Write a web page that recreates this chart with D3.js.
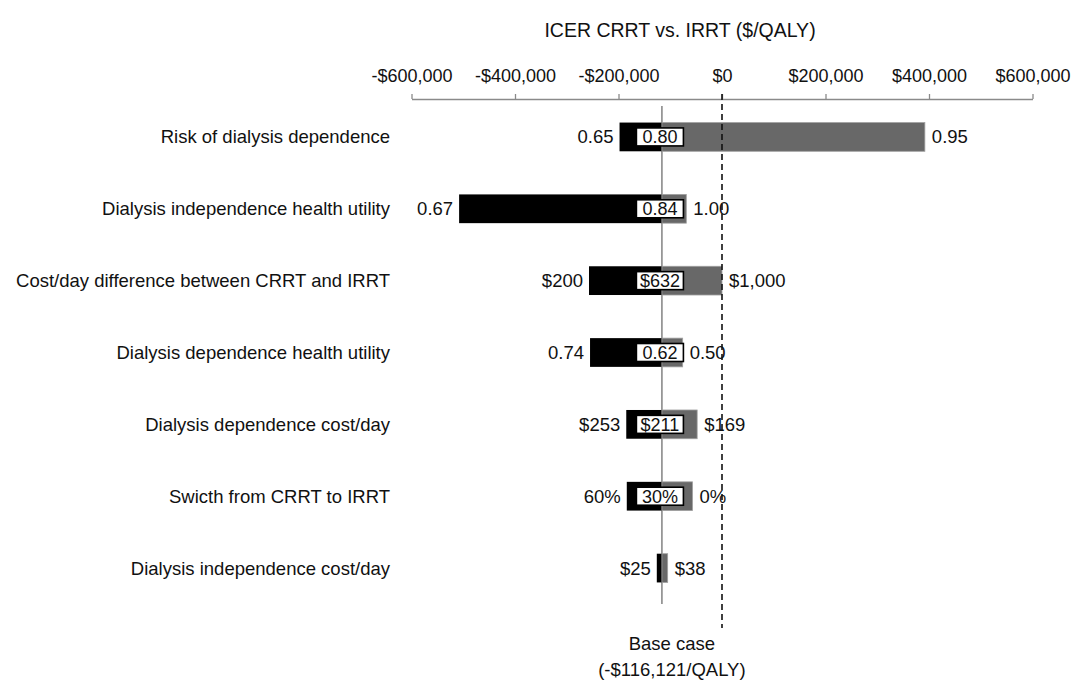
<!DOCTYPE html>
<html>
<head>
<meta charset="utf-8">
<script src="https://cdn.jsdelivr.net/npm/d3@7"></script>
<style>
  html, body { margin: 0; padding: 0; background: #fff; }
  svg text { font-family: "Liberation Sans", Arial, sans-serif; fill: #111; }
</style>
</head>
<body>
<div id="chart"></div>
<script>
/******  DATA  ******/
var parameters = [
  "Risk of dialysis dependence",
  "Dialysis independence health utility",
  "Cost/day difference between CRRT and IRRT",
  "Dialysis dependence health utility",
  "Dialysis dependence cost/day",
  "Swicth from CRRT to IRRT",
  "Dialysis independence cost/day"
];
// ICER ($/QALY) at the low-side (black) and high-side (gray) bar ends
var icerLow  = [-198000, -508000, -257000, -255000, -185000, -184000, -126000];
var icerHigh = [ 392000,  -69000,       0,  -76000,  -48000,  -57000, -105000];
// parameter values printed next to the bars
var lowLabels  = ["0.65", "0.67", "$200", "0.74", "$253", "60%", "$25"];
var baseLabels = ["0.80", "0.84", "$632", "0.62", "$211", "30%", ""];
var highLabels = ["0.95", "1.00", "$1,000", "0.50", "$169", "0%", "$38"];
var baseCase = -116121;
var xTicks = [-600000, -400000, -200000, 0, 200000, 400000, 600000];

/******  SET UP SVG  ******/
var width = 1074, height = 681;
var svg = d3.select("#chart")
  .append("svg")
  .attr("width", width)
  .attr("height", height);

var axisY = 99;

var x = d3.scaleLinear()
  .domain([-600000, 600000])
  .range([411.5, 1032.5]);

var y = d3.scaleBand()
  .domain(parameters)
  .range([101, 604])
  .paddingInner(0.6)
  .paddingOuter(0.3);

var fmt = d3.format(",");
function money(v) {
  return v < 0 ? "-$" + fmt(-v) : "$" + fmt(v);
}

/******  TITLE  ******/
svg.append("text")
  .attr("x", x(0) - 42)
  .attr("y", 37)
  .attr("text-anchor", "middle")
  .style("font-size", "19.5px")
  .text("ICER CRRT vs. IRRT ($/QALY)");

/******  AXIS  ******/
var axis = d3.axisTop(x)
  .tickValues(xTicks)
  .tickSize(5)
  .tickSizeOuter(0)
  .tickPadding(12)
  .tickFormat(money);

var gAxis = svg.append("g")
  .attr("transform", "translate(0," + axisY + ")")
  .call(axis);
gAxis.select(".domain").attr("stroke", "#8a8a8a").attr("stroke-width", 1.3);
gAxis.selectAll(".tick line").attr("stroke", "#8a8a8a").attr("stroke-width", 1.3);
gAxis.selectAll(".tick text")
  .attr("fill", "#111")
  .style("font-size", "18px")
  .style("font-family", "'Liberation Sans', Arial, sans-serif");

/******  REFERENCE LINES  ******/
svg.append("line")
  .attr("x1", x(baseCase)).attr("x2", x(baseCase))
  .attr("y1", axisY + 7).attr("y2", 604)
  .attr("stroke", "#8a8a8a")
  .attr("stroke-width", 1.6);

/******  CATEGORY LABELS  ******/
var rows = parameters.map(function(p, i) {
  return { name: p, lo: icerLow[i], hi: icerHigh[i],
           loLab: lowLabels[i], baseLab: baseLabels[i], hiLab: highLabels[i] };
});

svg.append("g")
  .selectAll("text")
  .data(rows)
  .enter()
  .append("text")
    .attr("x", 390)
    .attr("y", function(d) { return y(d.name) + y.bandwidth() / 2 + 6.5; })
    .attr("text-anchor", "end")
    .style("font-size", "18.5px")
    .text(function(d) { return d.name; });

/******  BARS  ******/
var bars = svg.append("g");

bars.selectAll(".low")
  .data(rows)
  .enter()
  .append("rect")
    .attr("class", "low")
    .attr("x", function(d) { return x(d.lo); })
    .attr("y", function(d) { return y(d.name); })
    .attr("width", function(d) { return x(baseCase) - x(d.lo); })
    .attr("height", y.bandwidth())
    .attr("fill", "#000");

bars.selectAll(".high")
  .data(rows)
  .enter()
  .append("rect")
    .attr("class", "high")
    .attr("x", function(d) { return x(baseCase); })
    .attr("y", function(d) { return y(d.name); })
    .attr("width", function(d) { return x(d.hi) - x(baseCase); })
    .attr("height", y.bandwidth())
    .attr("fill", "#686868")
    .attr("stroke", "#a0a0a0")
    .attr("stroke-width", 0.8);

// base value boxes
var boxes = bars.selectAll(".base")
  .data(rows.filter(function(d) { return d.baseLab !== ""; }))
  .enter()
  .append("g")
    .attr("class", "base")
    .attr("transform", function(d) {
      return "translate(" + (x(baseCase) - 2) + "," + (y(d.name) + y.bandwidth() / 2) + ")";
    });

boxes.append("rect")
  .attr("x", -23.5).attr("y", -9)
  .attr("width", 47).attr("height", 18)
  .attr("fill", "#fff")
  .attr("stroke", "#000")
  .attr("stroke-width", 1.6);

boxes.append("text")
  .attr("y", 6.5)
  .attr("text-anchor", "middle")
  .style("font-size", "18px")
  .text(function(d) { return d.baseLab; });

/******  VALUE LABELS  ******/
svg.append("g")
  .selectAll("text")
  .data(rows)
  .enter()
  .append("text")
    .attr("x", function(d) { return x(d.lo) - 6; })
    .attr("y", function(d) { return y(d.name) + y.bandwidth() / 2 + 6.5; })
    .attr("text-anchor", "end")
    .style("font-size", "18.5px")
    .text(function(d) { return d.loLab; });

svg.append("g")
  .selectAll("text")
  .data(rows)
  .enter()
  .append("text")
    .attr("x", function(d) { return x(d.hi) + 7; })
    .attr("y", function(d) { return y(d.name) + y.bandwidth() / 2 + 6.5; })
    .attr("text-anchor", "start")
    .style("font-size", "18.5px")
    .text(function(d) { return d.hiLab; });

// dashed zero line drawn on top
svg.append("line")
  .attr("x1", x(0)).attr("x2", x(0))
  .attr("y1", axisY - 5).attr("y2", 628)
  .attr("stroke", "#111")
  .attr("stroke-width", 1.6)
  .attr("stroke-dasharray", "6,4");

/******  BASE CASE NOTE  ******/
var note = svg.append("text")
  .attr("x", x(baseCase) + 10)
  .attr("text-anchor", "middle")
  .style("font-size", "18.5px");
note.append("tspan").attr("x", x(baseCase) + 10).attr("y", 650).text("Base case");
note.append("tspan").attr("x", x(baseCase) + 10).attr("y", 676).text("(-" + "$" + fmt(-Math.round(baseCase)) + "/QALY)");
</script>
</body>
</html>
